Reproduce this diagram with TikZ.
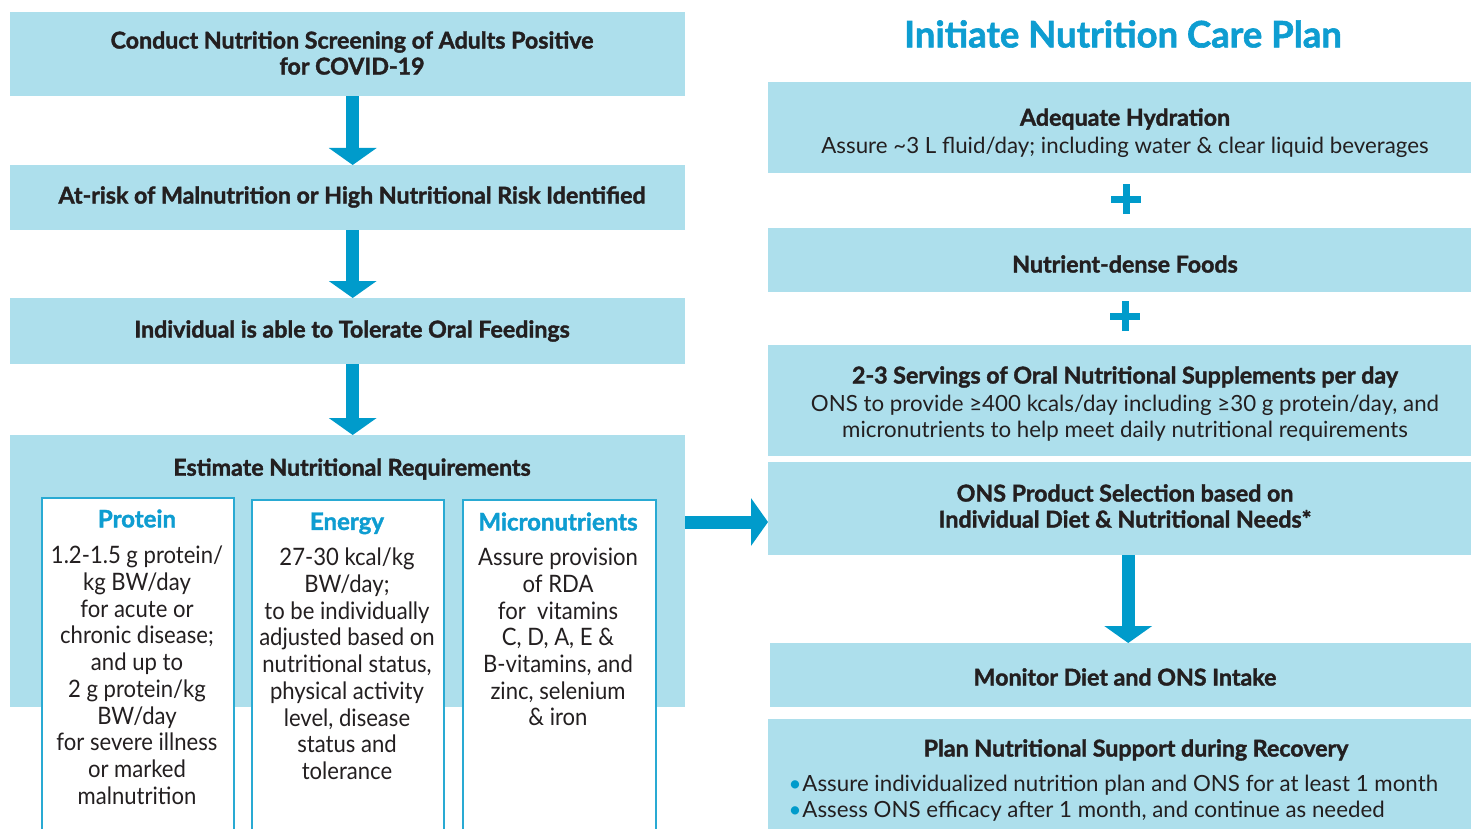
\documentclass[tikz,border=0pt]{standalone}
\usepackage{fontspec}
\setmainfont{Lato}[BoldFeatures={FakeBold=1.6}]
\newfontfamily\subfont{Lato}[FakeStretch=0.92]
\usetikzlibrary{arrows.meta}
\definecolor{boxfill}{HTML}{ADDFEC}
\definecolor{arrowc}{HTML}{009BCB}
\definecolor{titlec}{HTML}{0E9DD1}
\definecolor{framec}{HTML}{29AAD3}
\definecolor{textc}{HTML}{231F20}
\tikzset{
  box/.style={fill=boxfill, draw=none, anchor=north west, inner sep=0pt},
  head/.style={font=\fontsize{23.2}{26}\selectfont\bfseries, text=textc, align=center},
  body/.style={font=\fontsize{22.3}{26.5}\selectfont, text=textc, align=center},
  subframe/.style={draw=framec, line width=2pt, fill=white, anchor=north west, inner sep=0pt},
  subhead/.style={font=\fontsize{24}{27}\selectfont\bfseries, text=titlec, anchor=north},
  subbody/.style={font=\subfont\fontsize{24}{26.7}\selectfont, text=textc, align=center, anchor=north, inner sep=0pt},
  bigarrow/.style={draw=arrowc, line width=13pt, -{Triangle[width=47pt,length=17pt]}},
  plus/.style={draw=arrowc, line width=7pt}
}
\begin{document}
\begin{tikzpicture}[x=1pt,y=-1pt]
\clip (0,0) rectangle (1471,829);
\fill[white] (0,0) rectangle (1471,829);
% left column
\node[box, minimum width=675pt, minimum height=84pt] (b1) at (10,12) {};
\node[head] (t1) at (352,53) {Conduct Nutrition Screening of Adults Positive\\for COVID-19};
\node[box, minimum width=675pt, minimum height=65pt] (b2) at (10,165) {};
\node[head] (t2) at (352,197) {At-risk of Malnutrition or High Nutritional Risk Identified};
\node[box, minimum width=675pt, minimum height=66pt] (b3) at (10,298) {};
\node[head] (t3) at (352,331) {Individual is able to Tolerate Oral Feedings};
\node[box, minimum width=675pt, minimum height=272pt] (b4) at (10,435) {};
\node[head] (t4) at (352,469) {Estimate Nutritional Requirements};
\draw[bigarrow] ([xshift=5pt]b1.south) -- ([xshift=5pt]b2.north);
\draw[bigarrow] ([xshift=5pt]b2.south) -- ([xshift=5pt]b3.north);
\draw[bigarrow] ([xshift=5pt]b3.south) -- ([xshift=5pt]b4.north);
% sub boxes
\node[subframe, minimum width=192pt, minimum height=360pt] (p) at (41,497) {};
\node[subframe, minimum width=192pt, minimum height=360pt] (e) at (251,499) {};
\node[subframe, minimum width=193pt, minimum height=360pt] (m) at (462,499) {};
\node[subhead] (ph) at (137,506) {Protein};
\node[subhead] (eh) at (347,509) {Energy};
\node[subhead] (mh) at (558,509) {Micronutrients};
\node[subbody] (pb) at (137,546) {1.2-1.5 g protein/\\kg BW/day\\for acute or\\chronic disease;\\and up to\\2 g protein/kg\\BW/day\\for severe illness\\or marked\\malnutrition};
\node[subbody] (eb) at (347,548) {27-30 kcal/kg\\BW/day;\\to be individually\\adjusted based on\\nutritional status,\\physical activity\\level, disease\\status and\\tolerance};
\node[subbody] (mb) at (558,548) {Assure provision\\of RDA\\for\ \ vitamins\\C, D, A, E \&\\B-vitamins, and\\zinc, selenium\\\& iron};
% right column
\node[font=\fontsize{36.5}{40}\selectfont\bfseries, text=titlec] (title) at (1123,34) {Initiate Nutrition Care Plan};
\node[box, minimum width=703pt, minimum height=91pt] (r1) at (768,82) {};
\node[head] (r1h) at (1125,119) {Adequate Hydration};
\node[body] (r1b) at (1125,147) {Assure \textasciitilde 3 L fluid/day; including water \& clear liquid beverages};
\coordinate (pl1) at (1126,199);
\draw[plus] ([xshift=-15pt]pl1) -- ([xshift=15pt]pl1) ([yshift=-15pt]pl1) -- ([yshift=15pt]pl1);
\node[box, minimum width=703pt, minimum height=64pt] (r2) at (768,228) {};
\node[head] (r2h) at (1125,264) {Nutrient-dense Foods};
\coordinate (pl2) at (1125,316);
\draw[plus] ([xshift=-15pt]pl2) -- ([xshift=15pt]pl2) ([yshift=-15pt]pl2) -- ([yshift=15pt]pl2);
\node[box, minimum width=703pt, minimum height=111pt] (r3) at (768,345) {};
\node[head] (r3h) at (1125,377) {2-3 Servings of Oral Nutritional Supplements per day};
\node[body] (r3b) at (1125,418) {ONS to provide ≥400 kcals/day including ≥30 g protein/day, and\\micronutrients to help meet daily nutritional requirements};
\node[box, minimum width=703pt, minimum height=93pt] (r4) at (768,462) {};
\node[head] (r4h) at (1125,506) {ONS Product Selection based on\\Individual Diet \& Nutritional Needs*};
\node[box, minimum width=701pt, minimum height=64pt] (r5) at (770,643) {};
\node[head] (r5h) at (1125,677) {Monitor Diet and ONS Intake};
\node[box, minimum width=703pt, minimum height=115pt] (r6) at (768,719) {};
\node[head] (r6h) at (1136,750) {Plan Nutritional Support during Recovery};
\node[body, align=left, anchor=west] (r6b) at (785,798) {{\color{arrowc}\textbullet}\hspace{1pt}Assure individualized nutrition plan and ONS for at least 1 month\\{\color{arrowc}\textbullet}\hspace{1pt}Assess ONS efficacy after 1 month, and continue as needed};
\coordinate (ra) at (685,522);
\draw[bigarrow] (ra) -- (ra -| r4.west);
\draw[bigarrow] ([xshift=8.5pt]r4.south) -- ([xshift=8.5pt]r4.south |- r5.north);
\end{tikzpicture}
\end{document}
